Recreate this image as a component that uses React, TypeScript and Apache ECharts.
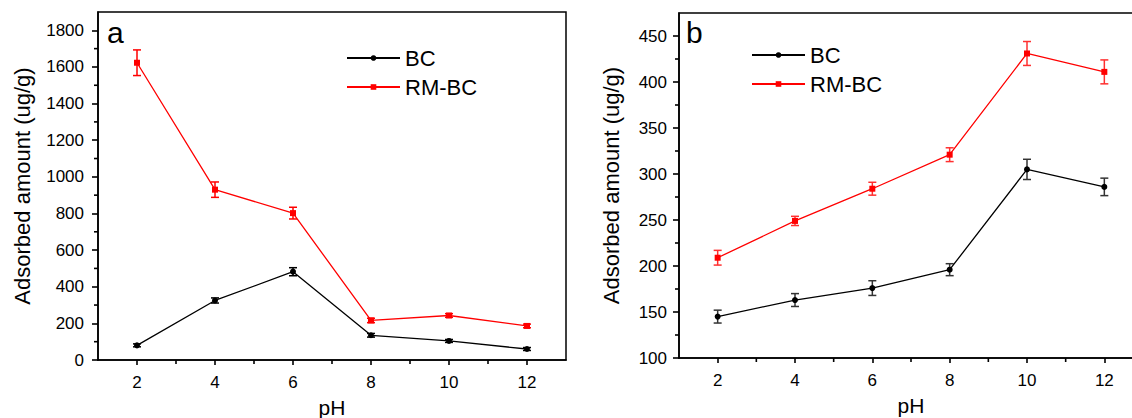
import React, { useEffect, useRef } from "react";
import * as echarts from "echarts";

// ---- data ----
const pH = [2, 4, 6, 8, 10, 12];
const xMajorTicks = [2, 4, 6, 8, 10, 12];
const xMinorTicks = [3, 5, 7, 9, 11];

// panel a
const aBC = [80, 325, 482, 135, 104, 60];
const aBCErr = [8, 14, 22, 10, 8, 8];
const aRM = [1623, 930, 802, 216, 243, 186];
const aRMErr = [70, 42, 32, 12, 10, 10];
const aYTicks = [0, 200, 400, 600, 800, 1000, 1200, 1400, 1600, 1800];
const aYMinor = [100, 300, 500, 700, 900, 1100, 1300, 1500, 1700];

// panel b
const bBC = [145, 163, 176, 196, 305, 286];
const bBCErr = [7, 7, 8, 6.5, 11, 9.5];
const bRM = [209, 249, 284, 321, 431, 411];
const bRMErr = [8, 5, 7, 7.5, 13, 13];
const bYTicks = [100, 150, 200, 250, 300, 350, 400, 450];
const bYMinor = [125, 175, 225, 275, 325, 375, 425];

const seriesNames = ["BC", "RM-BC"];
const panelLabels = ["a", "b"];

const FONT = "Liberation Sans";

function pts(vals: number[]) {
  return pH.map((x, i) => [x, vals[i]]);
}
function errData(vals: number[], errs: number[]) {
  return pH.map((x, i) => [x, vals[i] - errs[i], vals[i] + errs[i]]);
}

function errSeries(name: string, xi: number, yi: number, data: number[][], color: string) {
  return {
    type: "custom",
    name,
    xAxisIndex: xi,
    yAxisIndex: yi,
    z: 1,
    silent: true,
    encode: { x: 0, y: [1, 2] },
    data,
    renderItem: (params: any, api: any) => {
      const x = api.value(0);
      const lo = api.value(1);
      const hi = api.value(2);
      const p1 = api.coord([x, hi]);
      const p2 = api.coord([x, lo]);
      const hw = 4;
      const st = { stroke: color, lineWidth: 1.5 };
      return {
        type: "group",
        children: [
          { type: "line", shape: { x1: p1[0], y1: p1[1], x2: p2[0], y2: p2[1] }, style: st },
          { type: "line", shape: { x1: p1[0] - hw, y1: p1[1], x2: p1[0] + hw, y2: p1[1] }, style: st },
          { type: "line", shape: { x1: p2[0] - hw, y1: p2[1], x2: p2[0] + hw, y2: p2[1] }, style: st },
        ],
      };
    },
  };
}

// minor ticks drawn through the axes' own coordinate mapping
function minorTickSeries(name: string, xi: number, yi: number, data: number[][], dir: "x" | "y") {
  return {
    type: "custom",
    name,
    xAxisIndex: xi,
    yAxisIndex: yi,
    z: 10,
    silent: true,
    clip: false,
    encode: { x: 0, y: 1 },
    data,
    renderItem: (params: any, api: any) => {
      const p = api.coord([api.value(0), api.value(1)]);
      const len = 4;
      const shape =
        dir === "x"
          ? { x1: p[0], y1: p[1], x2: p[0], y2: p[1] + len }
          : { x1: p[0] - len, y1: p[1], x2: p[0], y2: p[1] };
      return { type: "line", shape, style: { stroke: "#000", lineWidth: 1.6 } };
    },
  };
}

function lineSeries(name: string, xi: number, yi: number, data: number[][], color: string, symbol: string) {
  return {
    type: "line",
    name,
    xAxisIndex: xi,
    yAxisIndex: yi,
    z: 3,
    data,
    symbol,
    symbolSize: 6,
    showSymbol: true,
    lineStyle: { color, width: 1.3 },
    itemStyle: { color },
  };
}

const axisLineStyle = { color: "#000", width: 1.6 };
const labelStyle = { color: "#000", fontFamily: FONT, fontSize: 17 };
const plain = (v: number) => String(v);

function mainX(gridIndex: number) {
  return {
    gridIndex,
    type: "value",
    min: 1,
    max: 13,
    name: "pH",
    nameLocation: "middle",
    nameGap: 37,
    nameTextStyle: { color: "#000", fontFamily: FONT, fontSize: 21 },
    axisLine: { show: true, onZero: false, lineStyle: axisLineStyle },
    axisTick: { show: true, length: 5, customValues: xMajorTicks, lineStyle: { color: "#000", width: 1.6 } },
    axisLabel: { ...labelStyle, margin: 14, customValues: xMajorTicks, formatter: plain },
    splitLine: { show: false },
  };
}
function mainY(gridIndex: number, min: number, max: number, ticks: number[], nameGap: number, margin: number) {
  return {
    gridIndex,
    type: "value",
    min,
    max,
    name: "Adsorbed amount (ug/g)",
    nameLocation: "middle",
    nameRotate: 90,
    nameGap,
    nameTextStyle: { color: "#000", fontFamily: FONT, fontSize: 22 },
    axisLine: { show: true, onZero: false, lineStyle: axisLineStyle },
    axisTick: { show: true, length: 6, customValues: ticks, lineStyle: { color: "#000", width: 1.6 } },
    axisLabel: { ...labelStyle, margin, customValues: ticks, formatter: plain },
    splitLine: { show: false },
  };
}

export default function App() {
  const ref = useRef<HTMLDivElement>(null);
  useEffect(() => {
    document.body.style.margin = "0";
    if (!ref.current) return;
    const chart = echarts.init(ref.current, undefined, { renderer: "svg" });
    const legendBase = {
      orient: "vertical",
      itemWidth: 53,
      itemHeight: 7,
      itemGap: 7,
      data: seriesNames,
      textStyle: { color: "#000", fontFamily: FONT, fontSize: 22 },
      selectedMode: false,
    };
    const gridBase = {
      show: true,
      borderColor: "#000",
      borderWidth: 1.5,
      backgroundColor: "transparent",
      containLabel: false,
      outerBoundsMode: "none",
    };
    chart.setOption({
      animation: false,
      backgroundColor: "#fff",
      grid: [
        { ...gridBase, left: 98, top: 12, width: 468, height: 348 },
        { ...gridBase, left: 679, top: 13, width: 464, height: 345 },
      ],
      xAxis: [mainX(0), mainX(1)],
      yAxis: [mainY(0, 0, 1900, aYTicks, 65, 14), mainY(1, 100, 475, bYTicks, 57, 12)],
      legend: [
        { ...legendBase, left: 341, top: 42 },
        { ...legendBase, left: 746, top: 39 },
      ],
      graphic: [
        { type: "text", left: 107, top: 17, style: { text: panelLabels[0], font: `30px ${FONT}`, fill: "#000" } },
        { type: "text", left: 686, top: 17, style: { text: panelLabels[1], font: `30px ${FONT}`, fill: "#000" } },
      ],
      series: [
        errSeries("aBCerr", 0, 0, errData(aBC, aBCErr), "#000"),
        errSeries("aRMerr", 0, 0, errData(aRM, aRMErr), "#ff0000"),
        lineSeries(seriesNames[0], 0, 0, pts(aBC), "#000", "circle"),
        lineSeries(seriesNames[1], 0, 0, pts(aRM), "#ff0000", "rect"),
        errSeries("bBCerr", 1, 1, errData(bBC, bBCErr), "#333"),
        errSeries("bRMerr", 1, 1, errData(bRM, bRMErr), "#ff3030"),
        lineSeries(seriesNames[0], 1, 1, pts(bBC), "#000", "circle"),
        lineSeries(seriesNames[1], 1, 1, pts(bRM), "#ff0000", "rect"),
        minorTickSeries("axMinor", 0, 0, xMinorTicks.map((v) => [v, 0]), "x"),
        minorTickSeries("ayMinor", 0, 0, aYMinor.map((v) => [1, v]), "y"),
        minorTickSeries("bxMinor", 1, 1, xMinorTicks.map((v) => [v, 100]), "x"),
        minorTickSeries("byMinor", 1, 1, bYMinor.map((v) => [1, v]), "y"),
      ],
    });
    return () => chart.dispose();
  }, []);
  return <div ref={ref} style={{ position: "absolute", left: 0, top: 0, width: 1132, height: 418 }} />;
}
